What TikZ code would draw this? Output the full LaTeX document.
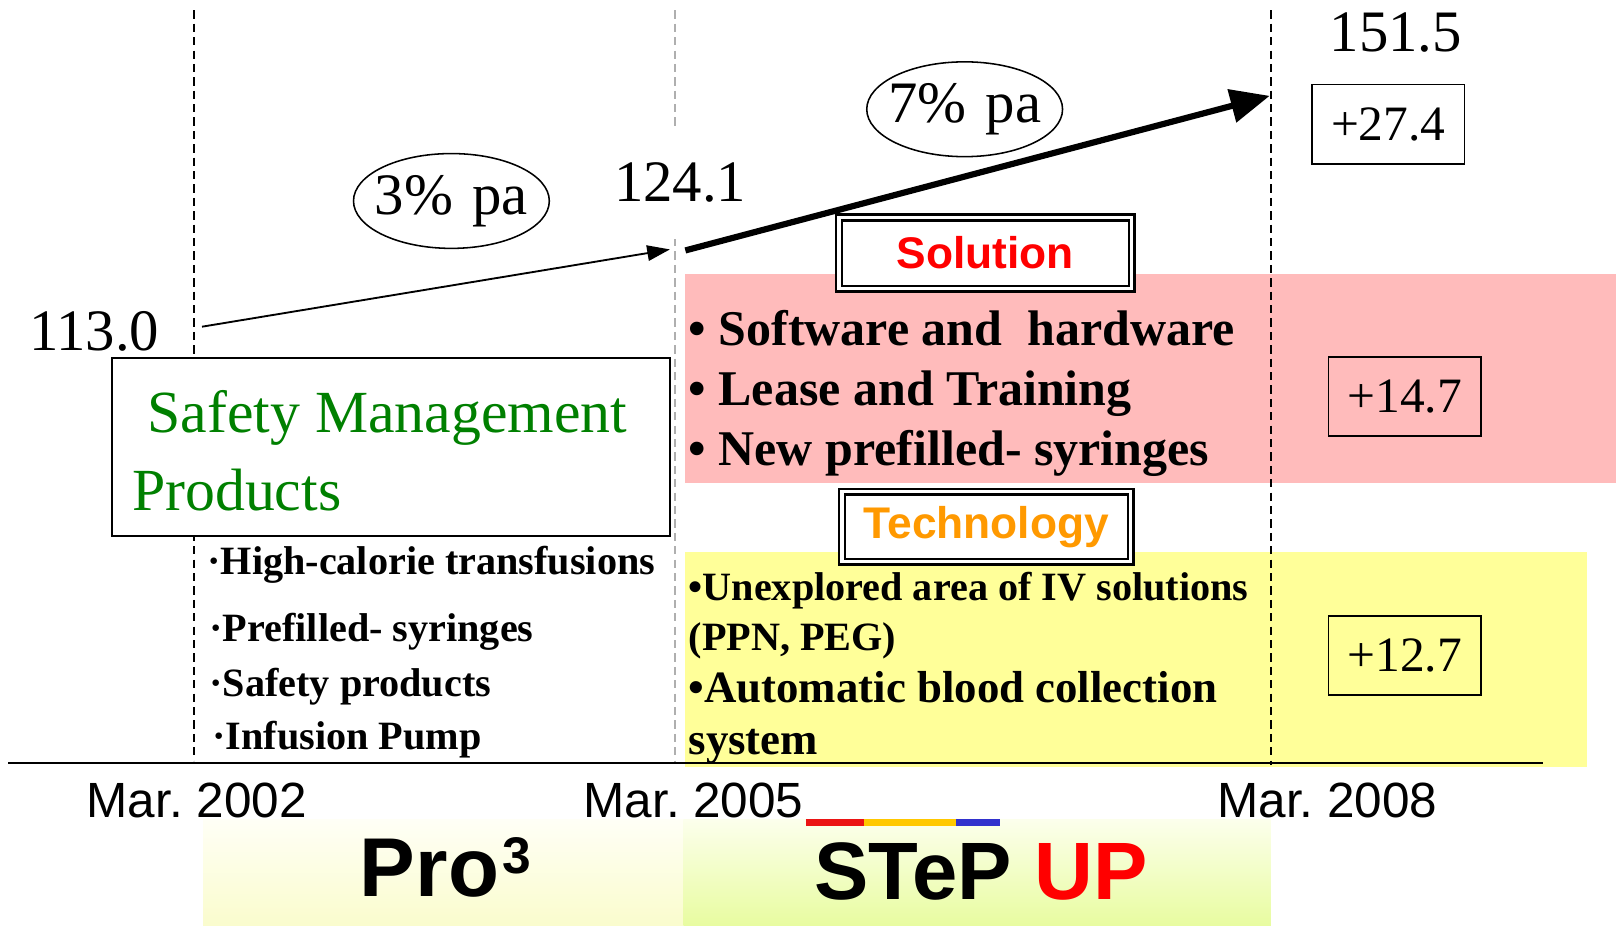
\documentclass[tikz,border=0pt]{standalone}
\usepackage{fontspec}
\setmainfont{Liberation Serif}
\setsansfont{Liberation Sans}
\usetikzlibrary{arrows.meta,shapes.geometric}
\definecolor{pinkband}{RGB}{255,187,187}
\definecolor{yellowband}{RGB}{255,255,153}
\definecolor{smgreen}{RGB}{0,128,0}
\definecolor{techorange}{RGB}{255,153,0}
\definecolor{barred}{RGB}{235,20,20}
\definecolor{baryellow}{RGB}{255,200,0}
\definecolor{barblue}{RGB}{50,50,205}
\definecolor{dashgrey}{RGB}{175,175,175}
\definecolor{proTop}{RGB}{255,255,246}
\definecolor{proBot}{RGB}{250,252,205}
\definecolor{stepTop}{RGB}{252,255,236}
\definecolor{stepBot}{RGB}{232,252,160}
\tikzset{
  dashline/.style={dash pattern=on 8pt off 5pt, line width=1.5pt},
  bignum/.style={inner sep=0pt, font=\fontsize{57}{60}\selectfont},
  valbox/.style={draw, line width=1.8pt, inner sep=0pt, minimum width=148pt, minimum height=77pt, font=\fontsize{48}{50}\selectfont},
  rateell/.style={draw, ellipse, line width=1.5pt, inner sep=0pt, minimum width=190pt, minimum height=92pt, font=\fontsize{57}{60}\selectfont},
  dblbox/.style={draw, line width=2.2pt, double=white, double distance=3.5pt, fill=white, inner sep=0pt, font=\sffamily\bfseries\fontsize{43}{46}\selectfont},
  pinktext/.style={anchor=base west, inner sep=0pt, font=\bfseries\fontsize{48.5}{50}\selectfont},
  smalltext/.style={anchor=base west, inner sep=0pt, font=\bfseries\fontsize{39}{41}\selectfont},
  midtext/.style={anchor=base west, inner sep=0pt, font=\bfseries\fontsize{43.5}{45}\selectfont},
  greentext/.style={anchor=base west, inner sep=0pt, text=smgreen, font=\fontsize{58}{60}\selectfont},
  datetext/.style={anchor=base west, inner sep=0pt, font=\sffamily\fontsize{48}{50}\selectfont},
  logotext/.style={anchor=base west, inner sep=0pt, font=\sffamily\bfseries\fontsize{79}{82}\selectfont},
}
\begin{document}
\begin{tikzpicture}[x=1pt,y=-1pt]
\useasboundingbox (0,0) rectangle (1568,899.4);
% coloured bands
\fill[pinkband] (665,266) rectangle (1568,469);
\fill[yellowband] (665,536) rectangle (1540,744);
\shade[top color=proTop, bottom color=proBot] (197,795) rectangle (663,898);
\shade[top color=stepTop, bottom color=stepBot] (663,795) rectangle (1233,898);
% dashed time lines
\draw[dashline] (188,10) -- (188,738);
\draw[dashline, dashgrey] (655,10) -- (655,740);
\draw[dashline] (1233,10) -- (1233,742);
% time axis
\draw[line width=2pt] (8,740) -- (1497,740);
% values
\node[bignum, anchor=base west] (v02) at (28,340) {113.0};
\node[bignum, fill=white, minimum height=110pt, minimum width=128pt] (v05) at (660,177) {124.1};
\node[bignum, anchor=base west] (v08) at (1290,50) {151.5};
% growth rates
\node[rateell] (r1) at (438,195) {\makebox[0pt]{3\%\hspace{0.08em} pa}};
\node[rateell] (r2) at (936,106) {\makebox[0pt]{7\%\hspace{0.08em} pa}};
% growth arrows
\coordinate (s02) at (196,317);
\coordinate (e05) at (650,242);
\coordinate (s05) at (665,243);
\coordinate (e08) at (1232,93);
\draw[line width=1.8pt, -{Triangle[length=22pt,width=15pt]}] (s02) -- (e05);
\draw[line width=6pt, -{Triangle[length=38pt,width=32pt]}] (s05) -- (e08);
% increments
\node[valbox] (d1) at (1347,120.5) {+27.4};
\node[valbox] (d2) at (1363,384.5) {+14.7};
\node[valbox] (d3) at (1363,636) {+12.7};
% category boxes
\node[dblbox, minimum width=284pt, minimum height=69pt, text=red] (sol) at (956,245.5) {Solution};
\node[dblbox, minimum width=280pt, minimum height=68pt, text=techorange] (tech) at (957,511) {Technology};
% safety management box
\node[draw, line width=1.8pt, fill=white, minimum width=541pt, minimum height=173pt, inner sep=0pt] (smp) at (379.5,433.5) {};
\node[greentext] (smp1) at (143,420) {Safety Management};
\node[greentext] (smp2) at (128,495) {Products};
% left bullet list
\node[smalltext] (l1) at (201,557) {·High-calorie transfusions};
\node[smalltext] (l2) at (203,622) {·Prefilled- syringes};
\node[smalltext] (l3) at (203,676) {·Safety products};
\node[smalltext] (l4) at (206,727) {·Infusion Pump};
% solution list
\node[pinktext] (p1) at (668,335) {• Software and\ \ hardware};
\node[pinktext] (p2) at (668,393) {• Lease and Training};
\node[pinktext] (p3) at (668,452) {• New prefilled- syringes};
% technology list
\node[smalltext] (t1) at (668,583) {•Unexplored area of IV solutions};
\node[smalltext] (t2) at (668,631) {(PPN, PEG)};
\node[midtext] (t3) at (668,682) {•Automatic blood collection};
\node[midtext] (t4) at (668,732) {system};
% dates
\node[datetext] (m02) at (84,793) {Mar.\ 2002};
\node[datetext] (m05) at (566,793) {Mar.\ 2005};
\node[datetext] (m08) at (1181,793) {Mar.\ 2008};
% colour bar
\draw[line width=6pt, barred] (782,798) -- (838,798);
\draw[line width=6pt, baryellow] (838,798) -- (928,798);
\draw[line width=6pt, barblue] (928,798) -- (970,798);
% programme names
\node[anchor=base west, inner sep=0pt, font=\sffamily\bfseries\fontsize{81}{84}\selectfont] (pro) at (349,870) {Pro\hspace{3pt}\raisebox{22pt}{\fontsize{50}{50}\selectfont 3}};
\node[logotext] (step) at (790,873) {STeP {\color{red}UP}};
\end{tikzpicture}
\end{document}
